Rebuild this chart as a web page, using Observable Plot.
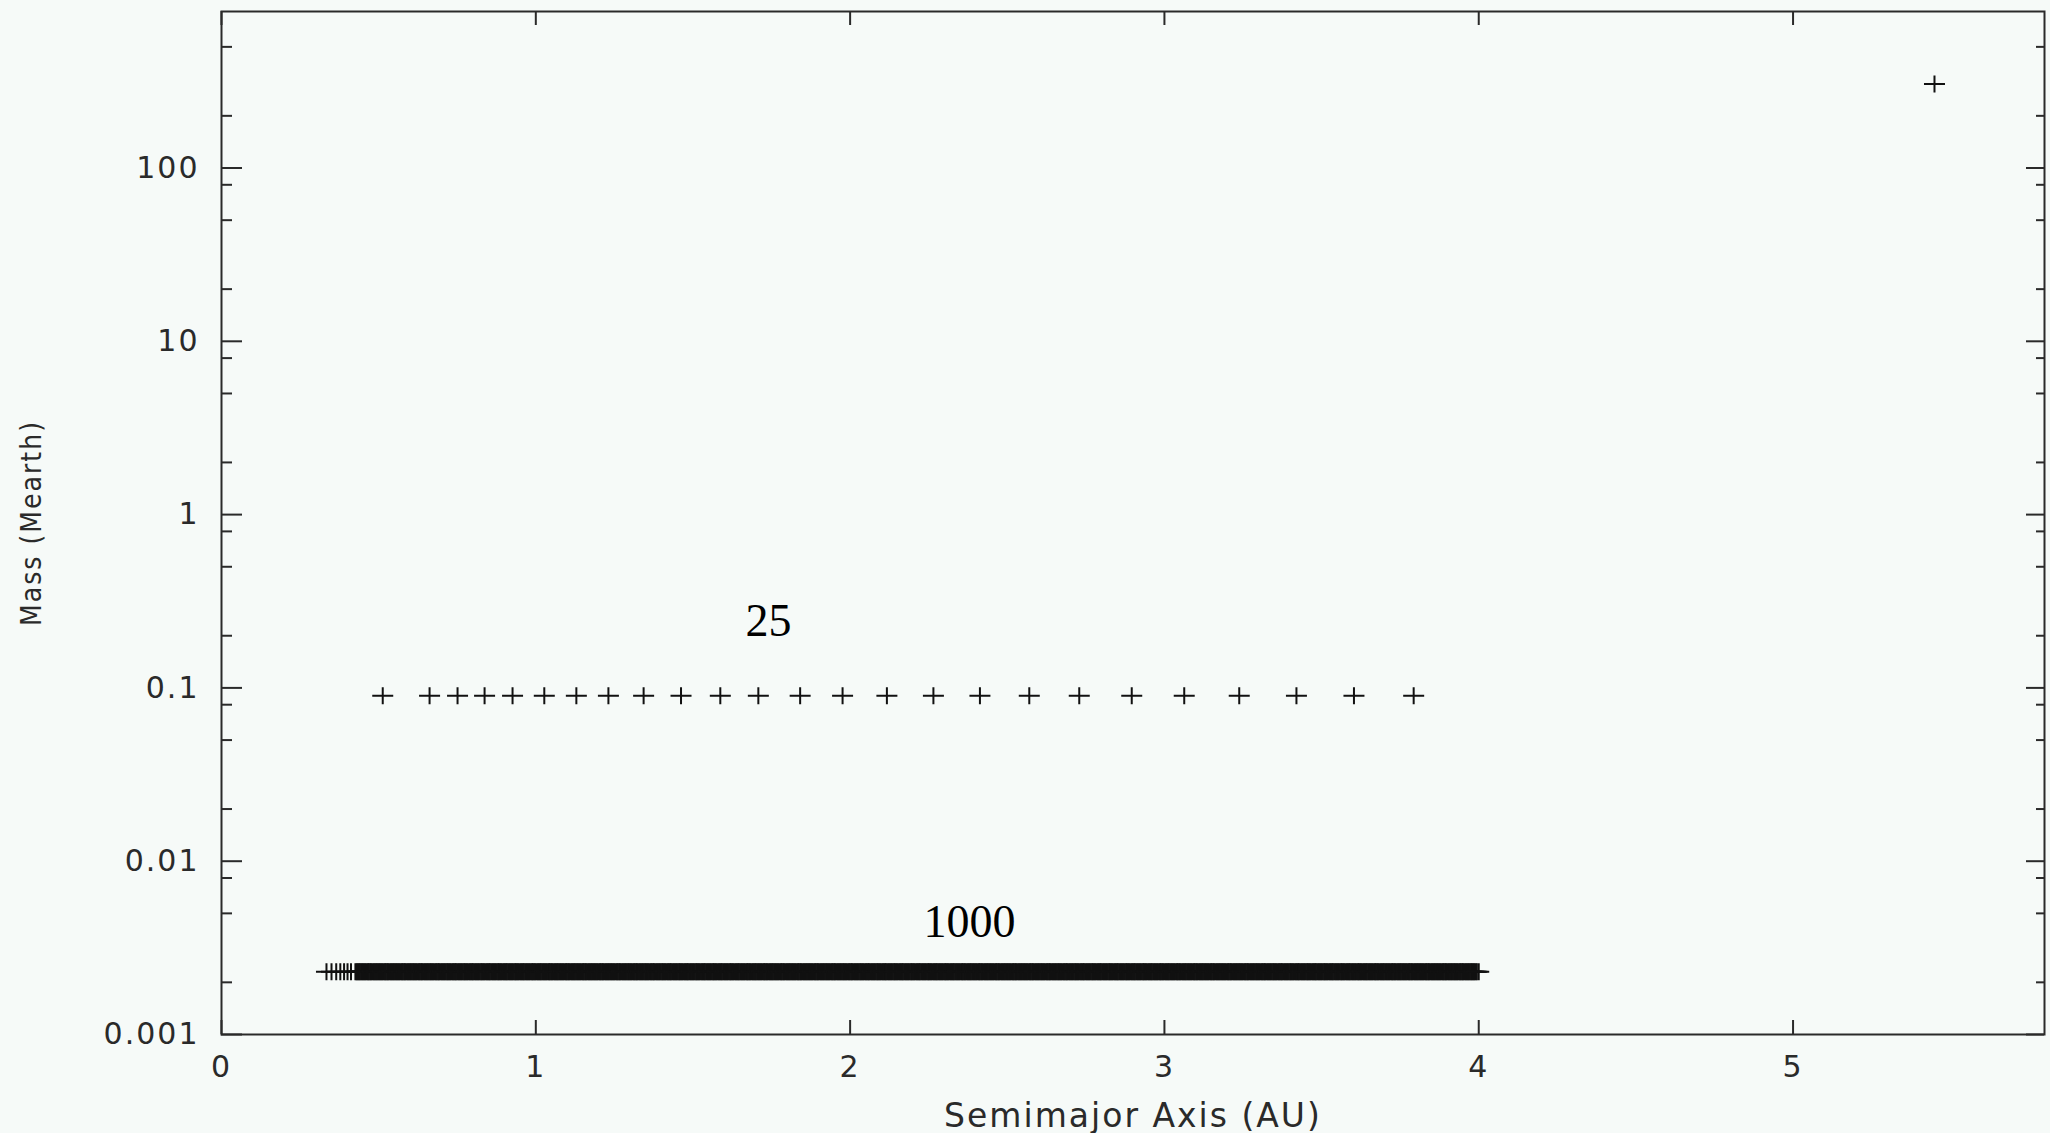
<!DOCTYPE html>
<html>
<head>
<meta charset="utf-8">
<script src="https://cdn.jsdelivr.net/npm/d3@7"></script>
<script src="https://cdn.jsdelivr.net/npm/@observablehq/plot@0.6"></script>
<style>
html, body { margin: 0; padding: 0; background: #f6faf8; }
#chart svg text { letter-spacing: 2px; }
</style>
</head>
<body>
<div id="chart"></div>
<script>
// ---- tick values ----
const yMajorTicks = [0.001, 0.01, 0.1, 1, 10, 100];
const yMinorTicks = [0.002, 0.005, 0.008, 0.02, 0.05, 0.08, 0.2, 0.5, 0.8, 2, 5, 8, 20, 50, 80, 200, 500];
const xTicks = [0, 1, 2, 3, 4, 5];

// ---- groups (count labels) and their body masses (Mearth) ----
const groupLabels = ["25", "1000"];
const groupMass = [0.09, 0.0023];
const labelAxis = [1.74, 2.38];     // AU where each count label sits
const labelMass = [0.241, 0.00445]; // Mearth where each count label sits

// ---- 25 embryos: semimajor axes (AU) ----
const embryoAxis = [0.513,0.662,0.751,0.837,0.926,1.027,1.129,1.231,1.343,1.462,1.587,1.708,1.841,1.976,2.117,2.265,2.413,2.570,2.729,2.896,3.063,3.238,3.420,3.603,3.793];

// ---- 1000 planetesimals: semimajor axes (AU) ----
const planetesimalAxis = [
0.334,0.350,0.365,0.378,0.390,0.401,0.412,
0.426,0.430,0.433,0.437,0.440,0.444,0.448,0.451,0.455,0.458,0.462,0.466,0.469,0.473,0.476,0.480,0.484,0.487,0.491,0.494,0.498,0.502,0.505,0.509,0.512,
0.516,0.520,0.523,0.527,0.530,0.534,0.538,0.541,0.545,0.548,0.552,0.556,0.559,0.563,0.566,0.570,0.574,0.577,0.581,0.584,0.588,0.592,0.595,0.599,0.602,
0.606,0.610,0.613,0.617,0.620,0.624,0.628,0.631,0.635,0.638,0.642,0.646,0.649,0.653,0.656,0.660,0.664,0.667,0.671,0.674,0.678,0.682,0.685,0.689,0.692,
0.696,0.700,0.703,0.707,0.710,0.714,0.718,0.721,0.725,0.728,0.732,0.736,0.739,0.743,0.746,0.750,0.754,0.757,0.761,0.764,0.768,0.772,0.775,0.779,0.782,
0.786,0.790,0.793,0.797,0.800,0.804,0.808,0.811,0.815,0.818,0.822,0.826,0.829,0.833,0.836,0.840,0.844,0.847,0.851,0.854,0.858,0.862,0.865,0.869,0.872,
0.876,0.880,0.883,0.887,0.890,0.894,0.898,0.901,0.905,0.908,0.912,0.916,0.919,0.923,0.926,0.930,0.934,0.937,0.941,0.944,0.948,0.952,0.955,0.959,0.962,
0.966,0.970,0.973,0.977,0.980,0.984,0.988,0.991,0.995,0.998,1.002,1.006,1.009,1.013,1.016,1.020,1.024,1.027,1.031,1.034,1.038,1.042,1.045,1.049,1.052,
1.056,1.060,1.063,1.067,1.070,1.074,1.078,1.081,1.085,1.088,1.092,1.096,1.099,1.103,1.106,1.110,1.114,1.117,1.121,1.124,1.128,1.132,1.135,1.139,1.142,
1.146,1.150,1.153,1.157,1.160,1.164,1.168,1.171,1.175,1.178,1.182,1.186,1.189,1.193,1.196,1.200,1.204,1.207,1.211,1.214,1.218,1.222,1.225,1.229,1.232,
1.236,1.240,1.243,1.247,1.250,1.254,1.258,1.261,1.265,1.268,1.272,1.276,1.279,1.283,1.286,1.290,1.294,1.297,1.301,1.304,1.308,1.312,1.315,1.319,1.322,
1.326,1.330,1.333,1.337,1.340,1.344,1.348,1.351,1.355,1.358,1.362,1.366,1.369,1.373,1.376,1.380,1.384,1.387,1.391,1.394,1.398,1.402,1.405,1.409,1.412,
1.416,1.420,1.423,1.427,1.430,1.434,1.438,1.441,1.445,1.448,1.452,1.456,1.459,1.463,1.466,1.470,1.474,1.477,1.481,1.484,1.488,1.492,1.495,1.499,1.502,
1.506,1.510,1.513,1.517,1.520,1.524,1.528,1.531,1.535,1.538,1.542,1.546,1.549,1.553,1.556,1.560,1.564,1.567,1.571,1.574,1.578,1.582,1.585,1.589,1.592,
1.596,1.600,1.603,1.607,1.610,1.614,1.618,1.621,1.625,1.628,1.632,1.636,1.639,1.643,1.646,1.650,1.654,1.657,1.661,1.664,1.668,1.672,1.675,1.679,1.682,
1.686,1.690,1.693,1.697,1.700,1.704,1.708,1.711,1.715,1.718,1.722,1.726,1.729,1.733,1.736,1.740,1.744,1.747,1.751,1.754,1.758,1.762,1.765,1.769,1.772,
1.776,1.780,1.783,1.787,1.790,1.794,1.798,1.801,1.805,1.808,1.812,1.816,1.819,1.823,1.826,1.830,1.834,1.837,1.841,1.844,1.848,1.852,1.855,1.859,1.862,
1.866,1.870,1.873,1.877,1.880,1.884,1.888,1.891,1.895,1.898,1.902,1.906,1.909,1.913,1.916,1.920,1.924,1.927,1.931,1.934,1.938,1.942,1.945,1.949,1.952,
1.956,1.960,1.963,1.967,1.970,1.974,1.978,1.981,1.985,1.988,1.992,1.996,1.999,2.003,2.006,2.010,2.014,2.017,2.021,2.024,2.028,2.032,2.035,2.039,2.042,
2.046,2.050,2.053,2.057,2.060,2.064,2.068,2.071,2.075,2.078,2.082,2.086,2.089,2.093,2.096,2.100,2.104,2.107,2.111,2.114,2.118,2.122,2.125,2.129,2.132,
2.136,2.140,2.143,2.147,2.150,2.154,2.158,2.161,2.165,2.168,2.172,2.176,2.179,2.183,2.186,2.190,2.194,2.197,2.201,2.204,2.208,2.212,2.215,2.219,2.222,
2.226,2.230,2.233,2.237,2.240,2.244,2.248,2.251,2.255,2.258,2.262,2.266,2.269,2.273,2.276,2.280,2.284,2.287,2.291,2.294,2.298,2.302,2.305,2.309,2.312,
2.316,2.320,2.323,2.327,2.330,2.334,2.338,2.341,2.345,2.348,2.352,2.356,2.359,2.363,2.366,2.370,2.374,2.377,2.381,2.384,2.388,2.392,2.395,2.399,2.402,
2.406,2.410,2.413,2.417,2.420,2.424,2.428,2.431,2.435,2.438,2.442,2.446,2.449,2.453,2.456,2.460,2.464,2.467,2.471,2.474,2.478,2.482,2.485,2.489,2.492,
2.496,2.500,2.503,2.507,2.510,2.514,2.518,2.521,2.525,2.528,2.532,2.536,2.539,2.543,2.546,2.550,2.554,2.557,2.561,2.564,2.568,2.572,2.575,2.579,2.582,
2.586,2.590,2.593,2.597,2.600,2.604,2.608,2.611,2.615,2.618,2.622,2.626,2.629,2.633,2.636,2.640,2.644,2.647,2.651,2.654,2.658,2.662,2.665,2.669,2.672,
2.676,2.680,2.683,2.687,2.690,2.694,2.698,2.701,2.705,2.708,2.712,2.716,2.719,2.723,2.726,2.730,2.734,2.737,2.741,2.744,2.748,2.752,2.755,2.759,2.762,
2.766,2.770,2.773,2.777,2.780,2.784,2.788,2.791,2.795,2.798,2.802,2.806,2.809,2.813,2.816,2.820,2.824,2.827,2.831,2.834,2.838,2.842,2.845,2.849,2.852,
2.856,2.860,2.863,2.867,2.870,2.874,2.878,2.881,2.885,2.888,2.892,2.896,2.899,2.903,2.906,2.910,2.914,2.917,2.921,2.924,2.928,2.932,2.935,2.939,2.942,
2.946,2.950,2.953,2.957,2.960,2.964,2.968,2.971,2.975,2.978,2.982,2.986,2.989,2.993,2.996,3.000,3.004,3.007,3.011,3.014,3.018,3.022,3.025,3.029,3.032,
3.036,3.040,3.043,3.047,3.050,3.054,3.058,3.061,3.065,3.068,3.072,3.076,3.079,3.083,3.086,3.090,3.094,3.097,3.101,3.104,3.108,3.112,3.115,3.119,3.122,
3.126,3.130,3.133,3.137,3.140,3.144,3.148,3.151,3.155,3.158,3.162,3.166,3.169,3.173,3.176,3.180,3.184,3.187,3.191,3.194,3.198,3.202,3.205,3.209,3.212,
3.216,3.220,3.223,3.227,3.230,3.234,3.238,3.241,3.245,3.248,3.252,3.256,3.259,3.263,3.266,3.270,3.274,3.277,3.281,3.284,3.288,3.292,3.295,3.299,3.302,
3.306,3.310,3.313,3.317,3.320,3.324,3.328,3.331,3.335,3.338,3.342,3.346,3.349,3.353,3.356,3.360,3.364,3.367,3.371,3.374,3.378,3.382,3.385,3.389,3.392,
3.396,3.400,3.403,3.407,3.410,3.414,3.418,3.421,3.425,3.428,3.432,3.436,3.439,3.443,3.446,3.450,3.454,3.457,3.461,3.464,3.468,3.472,3.475,3.479,3.482,
3.486,3.490,3.493,3.497,3.500,3.504,3.508,3.511,3.515,3.518,3.522,3.526,3.529,3.533,3.536,3.540,3.544,3.547,3.551,3.554,3.558,3.562,3.565,3.569,3.572,
3.576,3.580,3.583,3.587,3.590,3.594,3.598,3.601,3.605,3.608,3.612,3.616,3.619,3.623,3.626,3.630,3.634,3.637,3.641,3.644,3.648,3.652,3.655,3.659,3.662,
3.666,3.670,3.673,3.677,3.680,3.684,3.688,3.691,3.695,3.698,3.702,3.706,3.709,3.713,3.716,3.720,3.724,3.727,3.731,3.734,3.738,3.742,3.745,3.749,3.752,
3.756,3.760,3.763,3.767,3.770,3.774,3.778,3.781,3.785,3.788,3.792,3.796,3.799,3.803,3.806,3.810,3.814,3.817,3.821,3.824,3.828,3.832,3.835,3.839,3.842,
3.846,3.850,3.853,3.857,3.860,3.864,3.868,3.871,3.875,3.878,3.882,3.886,3.889,3.893,3.896,3.900,3.904,3.907,3.911,3.914,3.918,3.922,3.925,3.929,3.932,
3.936,3.940,3.943,3.947,3.950,3.954,3.958,3.961,3.965,3.968,3.972,3.976,3.979,3.983,3.986,3.990,3.994,4.000
];

// ---- giant planet ----
const giantAxis = [5.45];
const giantMass = [305];

// ---- build the table ----
const bodies = [
  ...embryoAxis.map(a => ({a, m: groupMass[0]})),
  ...planetesimalAxis.map(a => ({a, m: groupMass[1]})),
  ...giantAxis.map((a, i) => ({a, m: giantMass[i]}))
];
const annotations = groupLabels.map((t, i) => ({t, a: labelAxis[i], m: labelMass[i]}));

// ---- layout ----
const W = 2050, H = 1133;
const mL = 221, mR = 6, mT = 11, mB = 99;
const innerW = W - mL - mR, innerH = H - mT - mB;
const ink = "#2a2a2a";
const sansFont = "DejaVu Sans, Liberation Sans, sans-serif";

// "+" glyph, slightly wider than tall
const plusGlyph = {
  draw(ctx, size) {
    const r = Math.sqrt(size / Math.PI);
    const v = r * 0.81;
    ctx.moveTo(-r, 0); ctx.lineTo(r, 0);
    ctx.moveTo(0, -v); ctx.lineTo(0, v);
  }
};

const chart = Plot.plot({
  width: W, height: H,
  marginLeft: mL, marginRight: mR, marginTop: mT, marginBottom: mB,
  style: {background: "#f6faf8", color: ink},
  x: {domain: [0, 5.8]},
  y: {type: "log", domain: [0.001, 800]},
  marks: [
    Plot.axisX(xTicks, {tickSize: 0, tickPadding: 21, label: null, fontSize: 30, fontFamily: sansFont, fill: ink, tickFormat: d => String(d)}),
    Plot.axisY(yMajorTicks, {tickSize: 0, tickPadding: 22, label: null, fontSize: 30, fontFamily: sansFont, fill: ink, tickFormat: d => String(d)}),
    // inward ticks, left and right
    Plot.tickY(yMajorTicks, {y: d => d, insetRight: innerW - 21, stroke: ink, strokeWidth: 2}),
    Plot.tickY(yMinorTicks, {y: d => d, insetRight: innerW - 11, stroke: ink, strokeWidth: 2}),
    Plot.tickY(yMajorTicks, {y: d => d, insetLeft: innerW - 18, stroke: ink, strokeWidth: 2}),
    Plot.tickY(yMinorTicks, {y: d => d, insetLeft: innerW - 8, stroke: ink, strokeWidth: 2}),
    // inward ticks, bottom and top
    Plot.tickX(xTicks, {x: d => d, insetTop: innerH - 14, stroke: ink, strokeWidth: 2}),
    Plot.tickX(xTicks, {x: d => d, insetBottom: innerH - 14, stroke: ink, strokeWidth: 2}),
    Plot.frame({stroke: ink, strokeWidth: 2}),
    // bodies
    Plot.dot(bodies, {x: "a", y: "m", symbol: plusGlyph, r: 10.5, stroke: "#111", fill: "none", strokeWidth: 2}),
    // count labels
    Plot.text(annotations, {x: "a", y: "m", text: "t", fontFamily: "Liberation Serif, Times New Roman, serif", fontSize: 46, fill: "#000", ariaDescription: "annotation"}),
    // axis titles
    Plot.text(["Semimajor Axis (AU)"], {text: d => d, frameAnchor: "bottom", textAnchor: "middle", dy: 92, fontSize: 33, fontFamily: sansFont, fill: ink}),
    Plot.text(["Mass (Mearth)"], {text: d => d, frameAnchor: "left", textAnchor: "middle", lineAnchor: "middle", dx: -189, rotate: -90, fontSize: 28, fontFamily: "DejaVu Sans Condensed, DejaVu Sans, sans-serif", fill: ink})
  ]
});

document.getElementById("chart").appendChild(chart);
d3.select(chart).selectAll('g[aria-description="annotation"] text').style("letter-spacing", "0px");
</script>
</body>
</html>
